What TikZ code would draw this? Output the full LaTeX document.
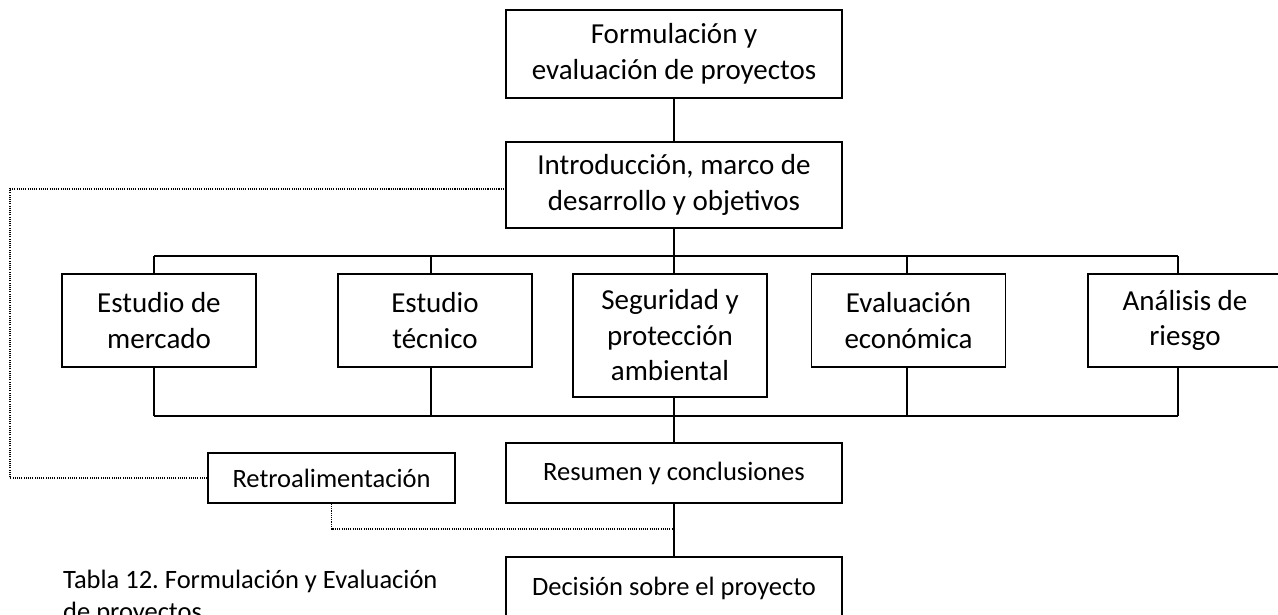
\documentclass[tikz,border=0pt]{standalone}
\usepackage{fontspec}
\setmainfont{Carlito}
\frenchspacing
\usetikzlibrary{positioning, calc}
\tikzset{
  bigbox/.style={rectangle, draw=black, line width=1.6pt, inner sep=0pt,
    align=center, minimum width=194pt, font=\fontsize{29}{35.5}\selectfont},
  widebox/.style={bigbox, minimum width=336pt},
  smallbox/.style={rectangle, draw=black, line width=1.6pt, inner sep=0pt,
    align=center, minimum height=60pt, font=\fontsize{26.5}{32}\selectfont},
  link/.style={line width=1.6pt, color=black},
  feedback/.style={line width=1.1pt, dash pattern=on 1.1pt off 1.1pt}
}

\begin{document}
\begin{tikzpicture}[x=1pt, y=-1pt]
  \useasboundingbox (0,0) rectangle (1278,615);
  \fill[white] (0,0) rectangle (1278,615);
  \clip (0,0) rectangle (1278,615);
  % main chain
  \node[widebox, minimum height=88pt] (fep) at (674,54) {Formulación y\\evaluación de proyectos};
  \node[widebox, minimum height=86pt] (intro) at (674,185) {Introducción, marco de\\desarrollo y objetivos};
  % studies
  \node[bigbox, minimum height=93pt] (mercado) at (159,320.5) {Estudio de\\mercado};
  \node[bigbox, minimum height=93pt] (tecnico) at (435,320.5) {Estudio\\técnico};
  \node[bigbox, minimum height=123pt] (segur) at (670,335.5) {Seguridad y\\protección\\ambiental};
  \node[bigbox, minimum height=93pt] (econ) at (908.5,320.5) {Evaluación\\económica};
  \node[bigbox, minimum height=93pt] (riesgo) at (1185,320.5) {Análisis de\\riesgo};
  % closing
  \node[smallbox, minimum width=336pt] (resumen) at (674,473) {Resumen y conclusiones};
  \node[smallbox, minimum width=247pt, minimum height=50pt] (retro) at (331.5,478) {Retroalimentación};
  \node[smallbox, minimum width=336pt, minimum height=62pt] (decision) at (674,588) {Decisión sobre el proyecto};
  \node[anchor=north west, align=left, inner sep=0pt,
    font=\fontsize{26.5}{32}\selectfont] (caption) at (63,570) {Tabla 12. Formulación y Evaluación\\de proyectos};

  % buses above and below the studies
  \foreach \n/\x in {mercado/154, tecnico/431, segur/674, econ/907, riesgo/1178} {
    \coordinate (t\n) at (\x,256);
    \coordinate (b\n) at (\x,416);
    \draw[link] (t\n) -- (t\n |- \n.north);
    \draw[link] (b\n) -- (b\n |- \n.south);
  }
  \draw[link] (tmercado) -- (triesgo);
  \draw[link] (bmercado) -- (briesgo);
  \draw[link] (fep) -- (intro);
  \draw[link] (intro) -- (tsegur);
  \draw[link] (bsegur) -- (resumen);
  \draw[link] (resumen) -- (decision);

  % feedback loop
  \coordinate (fbl) at (10,189);
  \coordinate (fbj) at (674,529);
  \draw[feedback] (retro.west) -| (fbl) -- (fbl -| intro.west);
  \draw[feedback] (retro.south) |- (fbj);
\end{tikzpicture}
\end{document}
